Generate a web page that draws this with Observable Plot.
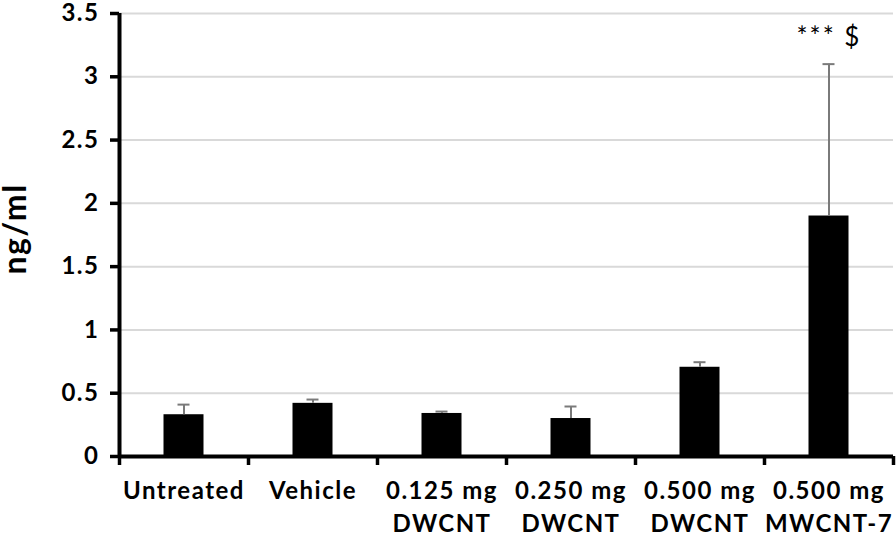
<!DOCTYPE html>
<html><head><meta charset="utf-8">
<script src="https://cdn.jsdelivr.net/npm/d3@7"></script>
<script src="https://cdn.jsdelivr.net/npm/@observablehq/plot@0.6"></script>
<style>body{margin:0;background:#fff}#chart svg{display:block}</style>
</head><body><div id="chart"></div>
<script>
const categories = ["Untreated", "Vehicle", "0.125 mg\nDWCNT", "0.250 mg\nDWCNT", "0.500 mg\nDWCNT", "0.500 mg\nMWCNT-7"];
const means = [0.33, 0.42, 0.34, 0.30, 0.705, 1.90];
const upper = [0.41, 0.45, 0.355, 0.395, 0.745, 3.10];
const yTicks = [0, 0.5, 1, 1.5, 2, 2.5, 3, 3.5];
const annotationCategory = "0.500 mg\nMWCNT-7";
const annotationValue = 3.10;
const annotationText = "*** $";
const yLabel = "ng/ml";

const data = categories.map((c, i) => ({c, m: means[i], u: upper[i]}));
const W = 896, H = 534, ML = 119, MR = 3, MT = 13, MB = 78;
const bw = (W - ML - MR) / categories.length;

const chart = Plot.plot({
  width: W, height: H,
  marginLeft: ML, marginRight: MR, marginTop: MT, marginBottom: MB,
  style: {fontFamily: "Lato, sans-serif", fontSize: "24px", fontWeight: "bold", letterSpacing: "1.5px", color: "#000", background: "#fff"},
  x: {domain: categories, padding: 0, label: null},
  y: {domain: [0, 3.5], label: null},
  marks: [
    Plot.gridY(yTicks, {stroke: "#d9d9d9", strokeOpacity: 1, strokeWidth: 2}),
    Plot.barY(data, {x: "c", y: "m", fill: "#000", insetLeft: (bw - 40) / 2, insetRight: (bw - 40) / 2}),
    Plot.ruleX(data, {x: "c", y1: "m", y2: "u", stroke: "#7a7a7a", strokeWidth: 2}),
    Plot.tickY(data, {x: "c", y: "u", stroke: "#7a7a7a", strokeWidth: 2, insetLeft: (bw - 12) / 2, insetRight: (bw - 12) / 2}),
    Plot.ruleY([0], {stroke: "#000", strokeWidth: 4}),
    Plot.ruleX([categories[0]], {x: d => d, dx: -bw / 2, stroke: "#000", strokeWidth: 4}),
    Plot.ruleX(categories, {x: d => d, y1: 0, y2: 0, insetBottom: -9, dx: -bw / 2, stroke: "#000", strokeWidth: 3.5}),
    Plot.ruleX([categories[categories.length - 1]], {x: d => d, y1: 0, y2: 0, insetBottom: -9, dx: bw / 2, stroke: "#000", strokeWidth: 3.5}),
    Plot.axisY({ticks: yTicks, tickFormat: d => String(d), tickSize: 9, tickPadding: 11, strokeWidth: 3.5, stroke: "#000"}),
    Plot.axisX({tickSize: 0, tickPadding: 19, lineHeight: 1.38}),
    Plot.text([annotationText], {x: [annotationCategory], y: [annotationValue], text: d => d, dy: -26, fontWeight: "normal"}),
    Plot.text([yLabel], {frameAnchor: "left", text: d => d, dx: -104, dy: -6, rotate: -90, textAnchor: "middle", fontWeight: "bold"})
  ]
});
d3.select(chart).selectAll("text").each(function() {
  const t = this.textContent;
  if (t === yLabel) this.style.fontSize = "32px";
  else if (t === annotationText) { this.style.fontSize = "26px"; this.style.letterSpacing = "2px"; }
});
document.getElementById("chart").appendChild(chart);
</script>
</body></html>
